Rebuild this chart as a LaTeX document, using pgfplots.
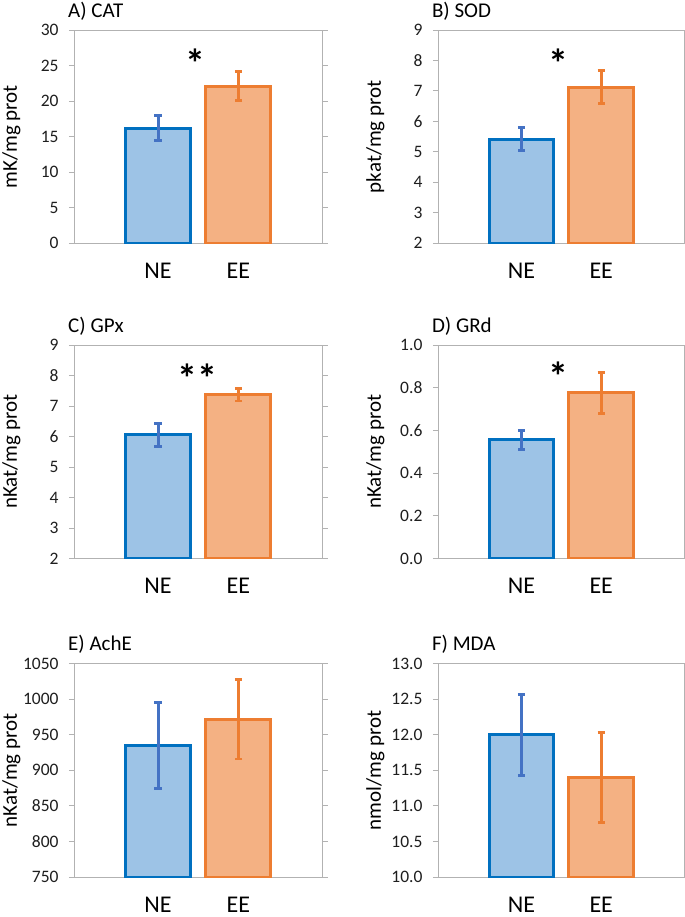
\documentclass[border=0pt]{standalone}
\usepackage{fontspec}
\setmainfont{Carlito}
\usepackage{pgfplots}
\pgfplotsset{compat=1.18}
\definecolor{framegray}{RGB}{178,178,178}
\definecolor{bblue}{RGB}{0,112,192}
\definecolor{fblue}{RGB}{157,195,230}
\definecolor{eblue}{RGB}{68,114,196}
\definecolor{borange}{RGB}{237,125,49}
\definecolor{forange}{RGB}{244,177,131}
\definecolor{ticktext}{RGB}{30,30,30}
\tikzset{sig/.style={font=\fontsize{40bp}{40bp}\selectfont\bfseries, inner sep=0pt, anchor=north}}
\pgfplotsset{
  panel/.style={
    scale only axis, height=213.3bp, anchor=south west,
    xmin=-1.04, xmax=2.04,
    ybar, bar width=0.81, bar shift=0pt,
    xtick={0,1}, xticklabels={NE,EE},
    major tick length=5.5bp, tick align=outside,
    ytick style={draw=framegray, line width=1bp},
    xtick style={draw=none},
    axis line style={draw=framegray, line width=1bp},
    /pgf/number format/assume math mode=true,
    /pgf/number format/1000 sep={},
    tick label style={font=\fontsize{17.5bp}{20bp}\selectfont, text=ticktext},
    yticklabel style={anchor=east, inner sep=0pt, xshift=-10.2bp},
    xticklabel style={font=\fontsize{24bp}{28bp}\selectfont, text=black, anchor=center, inner sep=0pt, yshift=-21.9bp},
    every axis title/.style={at={(axis description cs:0,1)}, anchor=base west, xshift=-6.5bp, yshift=13bp, inner sep=0pt, font=\fontsize{21bp}{24bp}\selectfont},
  },
  leftcol/.style={panel, width=247.5bp, every axis y label/.style={at={(axis description cs:-0.2545,0.5)}, rotate=90, anchor=center, font=\fontsize{21bp}{24bp}\selectfont}},
  rightcol/.style={panel, width=246bp, every axis y label/.style={at={(axis description cs:-0.256,0.5)}, rotate=90, anchor=center, font=\fontsize{21bp}{24bp}\selectfont}},
  nebar/.style={draw=bblue, fill=fblue, line width=3bp,
    error bars/.cd, y dir=both, y explicit,
    error bar style={line width=3bp, draw=eblue},
    error mark options={rotate=90, mark size=3.6bp, line width=2.8bp, draw=eblue}},
  eebar/.style={draw=borange, fill=forange, line width=3bp,
    error bars/.cd, y dir=both, y explicit,
    error bar style={line width=3bp, draw=borange},
    error mark options={rotate=90, mark size=3.6bp, line width=2.8bp, draw=borange}},
}
\begin{document}
\begin{tikzpicture}
\useasboundingbox (0,0) rectangle (685bp,-917bp);
% A) CAT
\begin{axis}[leftcol, at={(74.5bp,-243.3bp)}, title={A) CAT}, ylabel={mK/mg prot},
  ymin=0, ymax=30, ytick={0,5,10,15,20,25,30}]
\addplot[nebar] coordinates {(0,16.2) +- (0,1.75)};
\addplot[eebar] coordinates {(1,22.1) +- (0,2.05)};
\node[sig] at (axis cs:0.47,27.4) {*};
\end{axis}
% B) SOD
\begin{axis}[rightcol, at={(438.3bp,-243.3bp)}, title={B) SOD}, ylabel={pkat/mg prot},
  ymin=2, ymax=9, ytick={2,3,4,5,6,7,8,9}]
\addplot[nebar] coordinates {(0,5.42) +- (0,0.38)};
\addplot[eebar] coordinates {(1,7.12) +- (0,0.54)};
\node[sig] at (axis cs:0.47,8.39) {*};
\end{axis}
% C) GPx
\begin{axis}[leftcol, at={(74.5bp,-558.5bp)}, title={C) GPx}, ylabel={nKat/mg prot},
  ymin=2, ymax=9, ytick={2,3,4,5,6,7,8,9}]
\addplot[nebar] coordinates {(0,6.06) +- (0,0.38)};
\addplot[eebar] coordinates {(1,7.37) +- (0,0.20)};
\node[sig] at (axis cs:0.49,8.40) {**};
\end{axis}
% D) GRd
\begin{axis}[rightcol, at={(438.3bp,-558.5bp)}, title={D) GRd}, ylabel={nKat/mg prot},
  ymin=0, ymax=1, ytick={0,0.2,0.4,0.6,0.8,1},
  yticklabel style={/pgf/number format/.cd, fixed, fixed zerofill, precision=1}]
\addplot[nebar] coordinates {(0,0.556) +- (0,0.045)};
\addplot[eebar] coordinates {(1,0.777) +- (0,0.096)};
\node[sig] at (axis cs:0.47,0.921) {*};
\end{axis}
% E) AchE
\begin{axis}[leftcol, at={(74.5bp,-877bp)}, title={E) AchE}, ylabel={nKat/mg prot},
  ymin=750, ymax=1050, ytick={750,800,850,900,950,1000,1050}]
\addplot[nebar] coordinates {(0,935) +- (0,61)};
\addplot[eebar] coordinates {(1,972) +- (0,56)};
\end{axis}
% F) MDA
\begin{axis}[rightcol, at={(438.3bp,-877bp)}, title={F) MDA}, ylabel={nmol/mg prot},
  ymin=10, ymax=13, ytick={10,10.5,11,11.5,12,12.5,13},
  yticklabel style={/pgf/number format/.cd, fixed, fixed zerofill, precision=1}]
\addplot[nebar] coordinates {(0,12.0) +- (0,0.57)};
\addplot[eebar] coordinates {(1,11.40) +- (0,0.63)};
\end{axis}
\end{tikzpicture}
\end{document}
